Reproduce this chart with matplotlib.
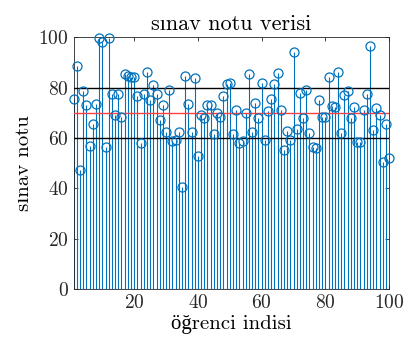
import numpy as np
import matplotlib
matplotlib.use("Agg")
import matplotlib.pyplot as plt

plt.rcParams['font.family'] = ['cmr10', 'Liberation Serif']
plt.rcParams['axes.unicode_minus'] = False
plt.rcParams['axes.formatter.use_mathtext'] = True

# öğrenci notları
indisler = np.arange(1, 101)
notlar = [75.5, 88.5, 47.2, 78.8, 73.2, 56.8, 65.6, 73.6, 99.7, 97.9,
          56.5, 99.8, 77.5, 69.2, 77.5, 68.1, 85.4, 84.6, 84.1, 84.3,
          76.8, 57.9, 77.5, 86.3, 75.0, 80.8, 77.4, 67.2, 73.0, 62.3,
          79.0, 58.6, 59.3, 62.2, 40.7, 84.5, 73.3, 62.5, 83.8, 52.9,
          69.2, 67.9, 73.2, 73.2, 61.5, 69.9, 68.3, 76.5, 81.2, 81.7,
          61.5, 70.9, 57.9, 58.9, 69.9, 85.5, 62.5, 73.9, 67.9, 81.6,
          59.2, 70.5, 75.5, 81.2, 85.9, 71.2, 55.2, 62.8, 59.2, 93.9,
          63.7, 77.9, 67.9, 79.2, 62.1, 56.3, 55.9, 75.2, 68.3, 68.3,
          84.3, 72.8, 72.3, 86.1, 62.1, 77.2, 78.5, 67.9, 72.3, 58.3,
          58.3, 71.2, 77.6, 96.3, 63.3, 71.9, 69.2, 50.5, 65.6, 52.1]

esikler = [80, 60]
ortalama_cizgi = 70

mavi = '#0072BD'

fig = plt.figure(figsize=(4.07, 3.5), dpi=100)
ax = fig.add_axes([0.181, 0.174, 0.775, 0.72])

ml, sl, bl = ax.stem(indisler, notlar, linefmt='-', markerfmt='o', basefmt='-')
plt.setp(sl, color=mavi, linewidth=0.8)
plt.setp(ml, color=mavi, markerfacecolor='none', markersize=6.5,
         markeredgewidth=0.9, clip_on=False, zorder=4)
plt.setp(bl, color=mavi, linewidth=0.8)

for e in esikler:
    ax.axhline(e, color='black', lw=1.0, zorder=3)
ax.axhline(ortalama_cizgi, color='#FF4040', lw=1.0, zorder=3)

ax.set_xlim(1, 100)
ax.set_ylim(0, 100)
ax.set_xticks([20, 40, 60, 80, 100])
ax.set_yticks([0, 20, 40, 60, 80, 100])
ax.tick_params(direction='in', length=3, width=0.6, labelsize=14,
               top=True, right=True, colors='#262626')
for s in ax.spines.values():
    s.set_linewidth(0.6)
    s.set_color('#262626')

ax.set_title('sınav notu verisi', fontsize=16, pad=5)
ax.set_xlabel('öğrenci indisi', fontsize=15, labelpad=2)
ax.set_ylabel('sınav notu', fontsize=15, labelpad=4)

fig.savefig('out.png', dpi=100)
